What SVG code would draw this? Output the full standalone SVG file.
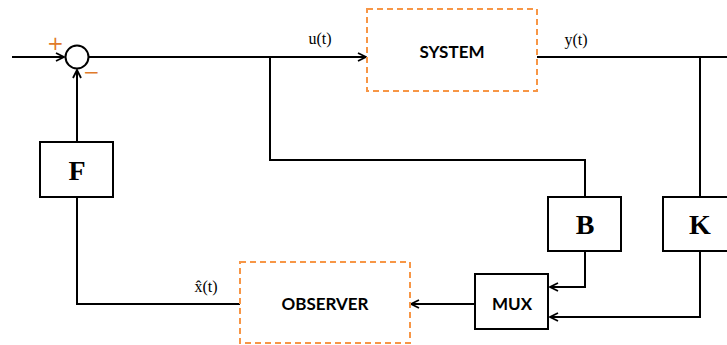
<svg xmlns="http://www.w3.org/2000/svg" width="727" height="345" viewBox="0 0 727 345">
<style>
.ln{fill:none;stroke:#000;stroke-width:2}
.dash{fill:#fff;stroke:#f79646;stroke-width:2;stroke-dasharray:6,4}
.blk{fill:#fff;stroke:#000;stroke-width:2}
.lbl{font-family:"Liberation Serif",serif;font-size:16px;fill:#000;text-anchor:middle}
.bt{font-family:Lato,"Liberation Sans",sans-serif;font-weight:bold;font-size:17px;fill:#000;text-anchor:middle}
.big{font-family:"Liberation Serif",serif;font-weight:bold;font-size:28px;fill:#000;text-anchor:middle}
.sg{font-family:"DejaVu Sans",sans-serif;font-size:20px;fill:#e07a2a;text-anchor:middle}
</style>
<defs>
<marker id="ah" viewBox="0 0 10 10" refX="9" refY="5" markerWidth="10" markerHeight="10" markerUnits="userSpaceOnUse" orient="auto">
<path d="M1,1 L9,5 L1,9" fill="none" stroke="#000" stroke-width="1.8"/>
</marker>
</defs>
<g id="connectors">
<line class="ln" x1="12" y1="57" x2="64" y2="57" marker-end="url(#ah)"/>
<line class="ln" x1="89" y1="57" x2="366" y2="57" marker-end="url(#ah)"/>
<polyline class="ln" points="270,57 270,160 585,160 585,197"/>
<line class="ln" x1="537" y1="57" x2="727" y2="57"/>
<line class="ln" x1="700" y1="57" x2="700" y2="197"/>
<polyline class="ln" points="585,251 585,287 550,287" marker-end="url(#ah)"/>
<polyline class="ln" points="700,251 700,317 550,317" marker-end="url(#ah)"/>
<line class="ln" x1="475" y1="304" x2="411" y2="304" marker-end="url(#ah)"/>
<polyline class="ln" points="240,304 77,304 77,197"/>
<line class="ln" x1="77" y1="142" x2="77" y2="70" marker-end="url(#ah)"/>
</g>
<g id="sum">
<circle cx="77" cy="57" r="11.5" fill="#fff" stroke="#000" stroke-width="2"/>
<text class="sg" x="55.5" y="50">+</text>
<text class="sg" x="91.5" y="79">−</text>
</g>
<g id="system">
<rect class="dash" x="367" y="9" width="170" height="82"/>
<text class="bt" x="452" y="58">SYSTEM</text>
</g>
<g id="observer">
<rect class="dash" x="240" y="262" width="170" height="81"/>
<text class="bt" x="325" y="310">OBSERVER</text>
</g>
<g id="mux">
<rect class="blk" x="475" y="274" width="73" height="55"/>
<text class="bt" x="512" y="310">MUX</text>
</g>
<g id="F">
<rect class="blk" x="40" y="142" width="73" height="55"/>
<text class="big" x="77" y="180">F</text>
</g>
<g id="B">
<rect class="blk" x="548" y="197" width="73" height="54"/>
<text class="big" x="585" y="234">B</text>
</g>
<g id="K">
<rect class="blk" x="663" y="197" width="70" height="54"/>
<text class="big" x="700" y="234">K</text>
</g>
<g id="labels">
<text class="lbl" x="320" y="44">u(t)</text>
<text class="lbl" x="576" y="45">y(t)</text>
<text class="lbl" x="206" y="292">x̂(t)</text>
</g>
</svg>
